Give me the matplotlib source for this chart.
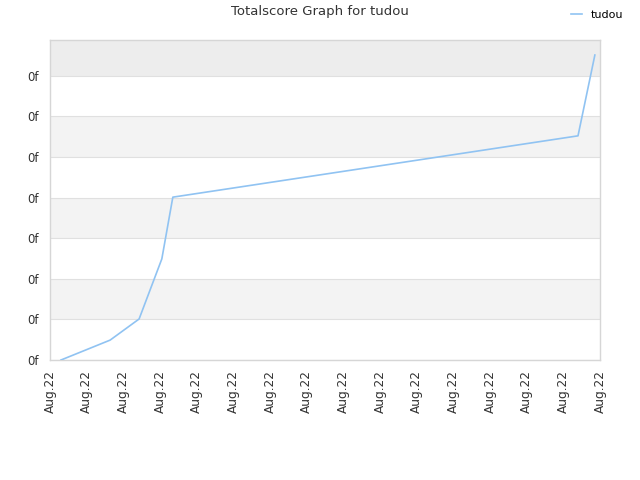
import matplotlib
matplotlib.use("Agg")
import matplotlib.pyplot as plt

# values (x in tick units, y in grid units)
x_vals = [0.30, 1.64, 2.43, 3.05, 3.35, 14.40, 14.86]
y_vals = [0.0, 0.49, 1.01, 2.49, 4.01, 5.52, 7.51]
x_ticks = list(range(16))
x_labels = ["Aug.22"] * 16
y_ticks = list(range(8))
y_labels = ["0f"] * 8
y_top = 7.88

fig = plt.figure(figsize=(6.4, 4.8), dpi=100)
ax = fig.add_axes([50 / 640, 120 / 480, 550 / 640, 320 / 480])

# alternating bands
for i in range(8):
    lo = i
    hi = min(i + 1, y_top)
    if i == 7:
        ax.axhspan(lo, hi, color="#ededed", zorder=0, lw=0)
    elif i % 2 == 1:
        ax.axhspan(lo, hi, color="#f3f3f3", zorder=0, lw=0)

for t in y_ticks:
    ax.axhline(t, color="#e0e0e0", lw=0.8, zorder=1)

ax.plot(x_vals, y_vals, color="#90c3f2", lw=1.2, label="tudou", zorder=3)

ax.set_xlim(0, 15)
ax.set_ylim(0, y_top)
ax.set_xticks(x_ticks)
ax.set_xticklabels(x_labels, rotation=90, fontsize=8.7, color="#333333")
ax.set_yticks(y_ticks)
ax.set_yticklabels(y_labels, fontsize=8.5, color="#333333")
ax.tick_params(axis="x", length=0, pad=7)
ax.tick_params(axis="y", length=0, pad=8)
for s in ax.spines.values():
    s.set_color("#d6d6d6")
    s.set_linewidth(1)

fig.suptitle("Totalscore Graph for tudou", x=0.5, y=0.99, fontsize=9.5, color="#333333")
fig.legend(loc="upper right", bbox_to_anchor=(0.99, 1.0), frameon=False,
           fontsize=8, handlelength=1.0)

fig.savefig("out.png")
